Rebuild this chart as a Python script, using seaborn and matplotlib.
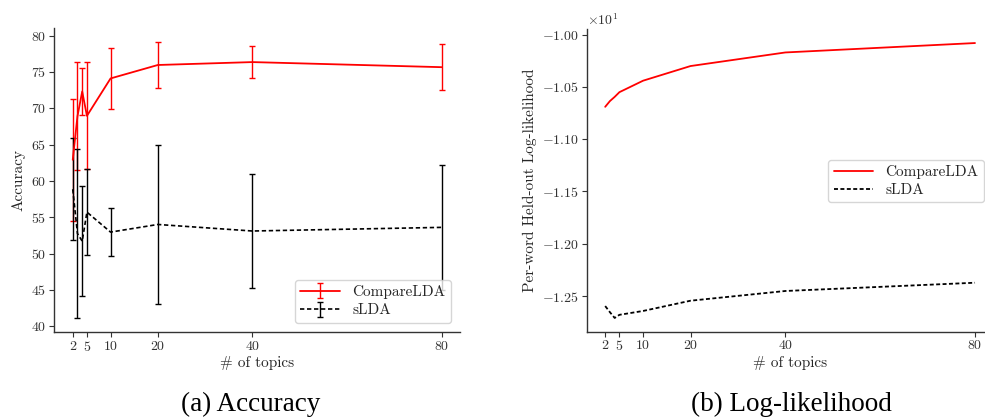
import matplotlib
matplotlib.use("Agg")
import matplotlib.pyplot as plt
import seaborn as sns
import pandas as pd

# ---- data ----
topics = [2, 3, 4, 5, 10, 20, 40, 80]
xticks = [2, 5, 10, 20, 40, 80]

acc_compare = [62.9, 68.9, 72.3, 68.95, 74.1, 75.95, 76.35, 75.65]
acc_compare_err = [8.4, 7.4, 3.2, 7.35, 4.2, 3.15, 2.15, 3.15]
acc_slda = [58.85, 52.75, 51.7, 55.7, 52.95, 54.0, 53.1, 53.6]
acc_slda_err = [7.05, 11.65, 7.6, 5.9, 3.3, 11.0, 7.8, 8.6]

ll_compare = [-10.69, -10.635, -10.595, -10.55, -10.44, -10.30, -10.17, -10.08]
ll_slda = [-12.596, -12.655, -12.71, -12.68, -12.643, -12.545, -12.452, -12.373]

series_names = ["CompareLDA", "sLDA"]
captions = ["(a) Accuracy", "(b) Log-likelihood"]

# ---- style ----
sns.set_theme(style="ticks")
plt.rcParams["font.family"] = ["cmr10", "DejaVu Serif"]
plt.rcParams["mathtext.fontset"] = "cm"
plt.rcParams["axes.formatter.use_mathtext"] = True
plt.rcParams["axes.unicode_minus"] = False
plt.rcParams["xtick.major.size"] = 3.5
plt.rcParams["ytick.major.size"] = 3.5
plt.rcParams["xtick.major.width"] = 0.8
plt.rcParams["ytick.major.width"] = 0.8
plt.rcParams["axes.linewidth"] = 1.0
plt.rcParams["axes.edgecolor"] = "0.2"
plt.rcParams["text.color"] = "0.15"
plt.rcParams["xtick.color"] = "0.2"
plt.rcParams["ytick.color"] = "0.2"

W, H = 985, 417
fig = plt.figure(figsize=(W / 100, H / 100), dpi=100)

def frac(x0, y0, x1, y1):
    return [x0 / W, (H - y1) / H, (x1 - x0) / W, (y1 - y0) / H]

ax1 = fig.add_axes(frac(54.3, 28.3, 460, 332))
ax2 = fig.add_axes(frac(586.7, 29.3, 993.5, 331.7))

dash = (0, (2.6, 1.6))

# ---- left: accuracy with error bars ----
ax1.errorbar(topics, acc_compare, yerr=acc_compare_err, color="red", ecolor="red",
             lw=1.3, elinewidth=1.0, capsize=2.5, capthick=1.0, label=series_names[0])
ax1.errorbar(topics, acc_slda, yerr=acc_slda_err, color="black", ecolor="black",
             lw=1.2, ls=dash, elinewidth=1.0, capsize=2.5, capthick=1.0, label=series_names[1])
ax1.set_xticks(xticks)
ax1.set_yticks([40, 45, 50, 55, 60, 65, 70, 75, 80])
ax1.set_xlabel("# of topics", fontsize=11, labelpad=2)
ax1.set_ylabel("Accuracy", fontsize=11, labelpad=4)
ax1.tick_params(labelsize=10, pad=2)
ax1.legend(loc="lower right", fontsize=11, borderaxespad=0.6, handlelength=2.6,
           labelspacing=0.3, borderpad=0.35, handletextpad=0.8)
sns.despine(ax=ax1)

# ---- right: log-likelihood ----
df = pd.DataFrame({
    "topics": topics * 2,
    "ll": ll_compare + ll_slda,
    "model": [series_names[0]] * len(topics) + [series_names[1]] * len(topics),
})
sns.lineplot(data=df, x="topics", y="ll", hue="model", style="model",
             palette={series_names[0]: "red", series_names[1]: "black"},
             dashes={series_names[0]: "", series_names[1]: (2.2, 1.35)},
             lw=1.3, ax=ax2)
ax2.set_xticks(xticks)
ax2.set_yticks([-12.5, -12.0, -11.5, -11.0, -10.5, -10.0])
ax2.ticklabel_format(axis="y", style="sci", scilimits=(0, 0), useMathText=True)
ax2.yaxis.get_offset_text().set_fontsize(10)
ax2.set_xlabel("# of topics", fontsize=11, labelpad=2)
ax2.set_ylabel("Per-word Held-out Log-likelihood", fontsize=11, labelpad=4)
ax2.tick_params(labelsize=10, pad=2)
ax2.legend(loc="center right", bbox_to_anchor=(984 / W, 1 - 181 / H),
           bbox_transform=fig.transFigure, borderaxespad=0, fontsize=11,
           handlelength=2.6, labelspacing=0.3, borderpad=0.35, handletextpad=0.8,
           title=None)
sns.despine(ax=ax2)

# ---- captions ----
fig.text(251 / W, 1 - 404 / H, captions[0], ha="center", va="center",
         family="Liberation Serif", fontsize=19.5, color="black")
fig.text(791 / W, 1 - 404 / H, captions[1], ha="center", va="center",
         family="Liberation Serif", fontsize=19.5, color="black")

fig.savefig("out.png", dpi=100)
